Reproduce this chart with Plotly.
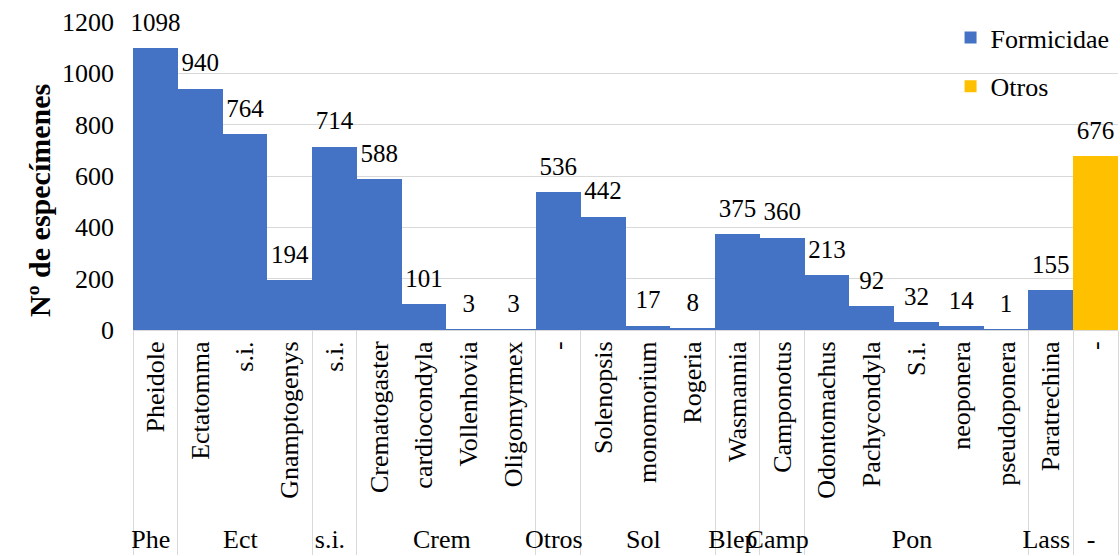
import plotly.graph_objects as go

groups = ["Phe", "Ect", "Ect", "Ect", "s.i.", "Crem", "Crem", "Crem", "Crem", "Otros",
          "Sol", "Sol", "Sol", "Blep", "Camp", "Pon", "Pon", "Pon", "Pon", "Pon", "Lass"]
genera = ["Pheidole", "Ectatomma", "s.i.", "Gnamptogenys", "s.i.", "Crematogaster",
          "cardiocondyla", "Vollenhovia", "Oligomyrmex", "-", "Solenopsis", "monomorium",
          "Rogeria", "Wasmannia", "Camponotus", "Odontomachus", "Pachycondyla", "S.i.",
          "neoponera", "pseudoponera", "Paratrechina"]
formicidae = [1098, 940, 764, 194, 714, 588, 101, 3, 3, 536, 442, 17, 8, 375, 360,
              213, 92, 32, 14, 1, 155]

otros_group = ["-"]
otros_genus = ["-"]
otros_vals = [676]

y_ticks = [0, 200, 400, 600, 800, 1000, 1200]
y_title = "Nº de especímenes"

FONT = "Liberation Serif"
n_cats = len(genera) + len(otros_genus)

fig = go.Figure()
fig.add_trace(go.Bar(
    x=[groups, genera], y=formicidae, name="Formicidae",
    marker=dict(color="#4472C4", line=dict(width=0)),
    legendgroup="a",
))
fig.add_trace(go.Bar(
    x=[otros_group, otros_genus], y=otros_vals, name="Otros",
    marker=dict(color="#FFC000", line=dict(width=0)),
    legendgroup="b",
))
# data labels
for gx, sx, vals in [(groups, genera, formicidae), (otros_group, otros_genus, otros_vals)]:
    fig.add_trace(go.Scatter(
        x=[gx, sx], y=vals, mode="markers+text",
        text=[str(v) for v in vals], textposition="top center",
        textfont=dict(family=FONT, size=25, color="#000000"),
        marker=dict(size=16, opacity=0), showlegend=False,
        cliponaxis=False, hoverinfo="skip",
    ))

fig.add_annotation(
    text="<b>" + y_title + "</b>", textangle=-90,
    xref="paper", yref="paper", x=-0.0944, y=0.419,
    xanchor="center", yanchor="middle", showarrow=False,
    font=dict(family=FONT, size=30, color="#000000"),
)

fig.update_layout(
    width=1120, height=556,
    barmode="overlay", bargap=0,
    plot_bgcolor="white", paper_bgcolor="white",
    margin=dict(l=133, r=2, t=22, b=226),
    font=dict(family=FONT, size=26, color="#000000"),
    showlegend=True,
    legend=dict(x=0.83, y=1.026, xanchor="left", yanchor="top",
                bgcolor="rgba(0,0,0,0)", font=dict(family=FONT, size=26),
                tracegroupgap=12, traceorder="grouped"),
    yaxis=dict(range=[0, 1200], tickvals=y_ticks, showgrid=True,
               gridcolor="#d9d9d9", gridwidth=1, zeroline=False,
               showline=False, ticks="", ticklabelstandoff=18,
               tickfont=dict(family=FONT, size=26), automargin=False),
    xaxis=dict(type="multicategory", tickangle=-90, showline=True,
               range=[-0.5, n_cats - 0.5],
               linecolor="#d9d9d9", linewidth=1, showdividers=True,
               dividercolor="#d9d9d9", dividerwidth=1, ticks="",
               tickfont=dict(family=FONT, size=26), automargin=False),
)

fig.write_html("out.html", config={"displayModeBar": False},
               post_script="document.body.style.margin='0px';")
